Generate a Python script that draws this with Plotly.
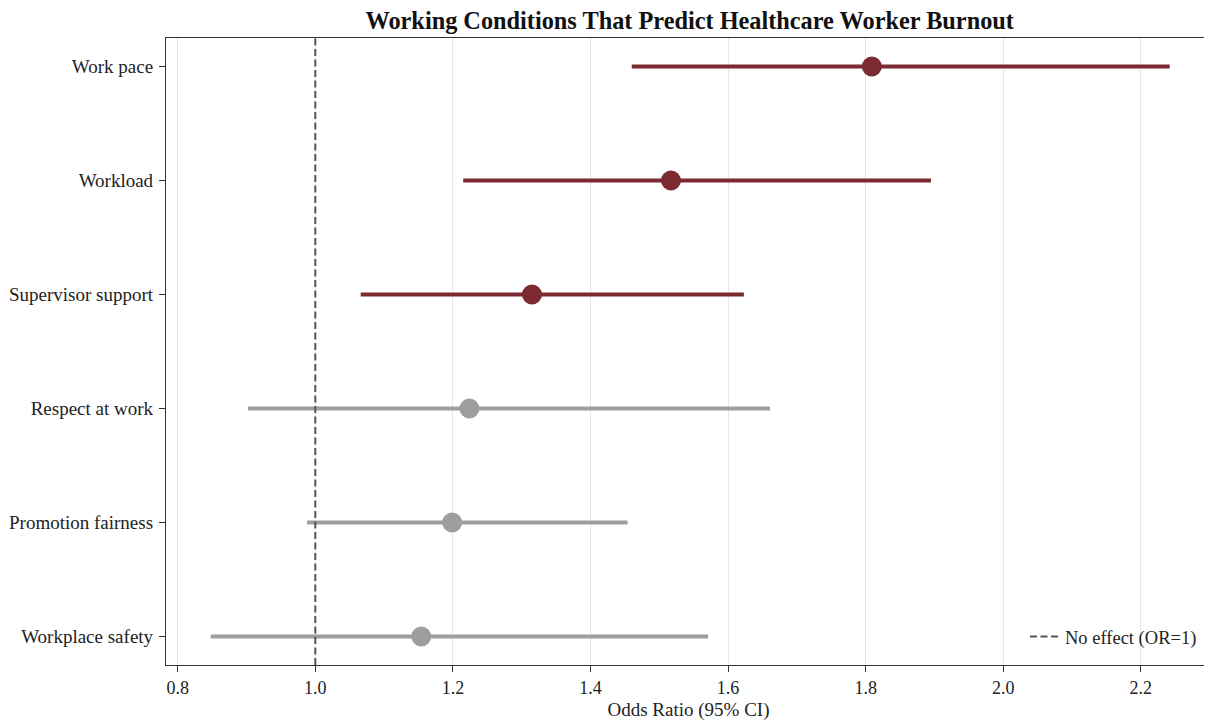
import plotly.graph_objects as go

# Data
factors = ["Work pace", "Workload", "Supervisor support",
           "Respect at work", "Promotion fairness", "Workplace safety"]
odds_ratio = [1.809, 1.517, 1.315, 1.224, 1.199, 1.154]
ci_lower = [1.460, 1.215, 1.066, 0.902, 0.988, 0.848]
ci_upper = [2.242, 1.895, 1.623, 1.661, 1.454, 1.571]
significant = [True, True, True, False, False, False]

x_ticks = [0.8, 1.0, 1.2, 1.4, 1.6, 1.8, 2.0, 2.2]

SIG_COLOR = "#7B2A30"
NS_COLOR = "#9E9E9E"
FONT = "Liberation Serif"

fig = go.Figure()

for flag, color in [(True, SIG_COLOR), (False, NS_COLOR)]:
    idx = [i for i, s in enumerate(significant) if s == flag]
    fig.add_trace(go.Scatter(
        x=[odds_ratio[i] for i in idx],
        y=[factors[i] for i in idx],
        mode="markers",
        marker=dict(size=20, color=color, line=dict(width=0)),
        error_x=dict(
            type="data", symmetric=False,
            array=[ci_upper[i] - odds_ratio[i] for i in idx],
            arrayminus=[odds_ratio[i] - ci_lower[i] for i in idx],
            color=color, thickness=4, width=0,
        ),
        showlegend=False,
        hoverinfo="skip",
    ))

# legend entry for reference line
fig.add_trace(go.Scatter(
    x=[None], y=[None], mode="lines",
    line=dict(color="#555555", width=2, dash="7px,3.5px"),
    name="No effect (OR=1)", showlegend=True,
))

fig.add_shape(type="line", xref="x", yref="paper", x0=1.0, x1=1.0, y0=0, y1=1,
              line=dict(color="#555555", width=2, dash="7px,3.5px"), layer="above")

fig.update_layout(
    width=1204, height=713,
    margin=dict(l=158, r=1, t=30, b=56),
    paper_bgcolor="white", plot_bgcolor="white",
    font=dict(family=FONT, size=19, color="#222222"),
    title=dict(text="<b>Working Conditions That Predict Healthcare Worker Burnout</b>",
               font=dict(family=FONT, size=24.3, color="#111111"),
               x=0.5662, xanchor="center", y=0.995, yanchor="top"),
    legend=dict(x=0.822, xanchor="left", y=0.0447, yanchor="middle",
                bgcolor="rgba(255,255,255,0)", font=dict(size=18.5)),
    xaxis=dict(
        range=[0.783, 2.302], tickvals=x_ticks,
        ticktext=[f"{v:.1f}" for v in x_ticks],
        showgrid=True, gridcolor="#e6e6e6", gridwidth=1,
        zeroline=False, showline=True, linecolor="#333333", linewidth=1.2,
        mirror=True, ticks="outside", ticklen=6, tickcolor="#333333",
        title=dict(text="Odds Ratio (95% CI)", standoff=6, font=dict(size=19)),
        tickfont=dict(size=18),
    ),
    yaxis=dict(
        type="category", categoryorder="array", categoryarray=factors,
        range=[5.25, -0.25],
        showgrid=False, zeroline=False, showline=True,
        linecolor="#333333", linewidth=1.2, mirror=True,
        ticks="outside", ticklen=6, tickcolor="#333333",
        tickfont=dict(size=19), ticklabelstandoff=2,
    ),
)

fig.write_html("out.html")
